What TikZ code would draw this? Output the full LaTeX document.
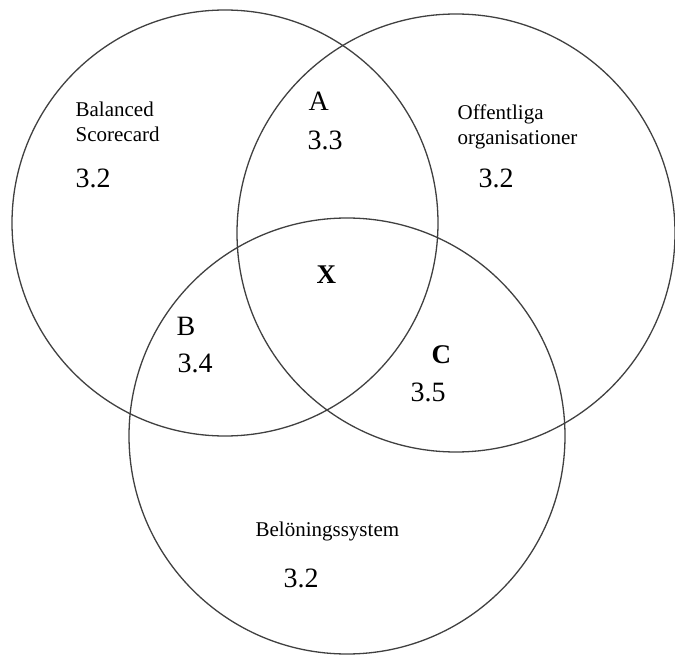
\documentclass[tikz,border=0pt]{standalone}
\usepackage{fontspec}
\setmainfont{Liberation Serif}
\usepackage{tikz}
\usetikzlibrary{positioning}

\tikzset{
  setname/.style={inner sep=0pt, anchor=base west, font=\fontsize{21}{25}\selectfont},
  setval/.style={inner sep=0pt, anchor=base west, font=\fontsize{28}{32}\selectfont},
  zone/.style={inner sep=0pt, anchor=base west, font=\fontsize{28}{32}\selectfont},
  zonebf/.style={inner sep=0pt, anchor=base west, font=\fontsize{27}{32}\selectfont\bfseries},
}

\begin{document}
\begin{tikzpicture}[x=1pt, y=-1pt, line width=1.3pt]
\useasboundingbox (0,0) rectangle (675,660);
% -- the three sets --
\draw[black!75] (225,223) circle (213);
\draw[black!75] (456,233) circle (219);
\draw[black!75] (347,436) circle (218);
% -- set names and values --
\node[setname] (bsc1) at (75,117) {Balanced};
\node[setname] (bsc2) at (75,142) {Scorecard};
\node[setval] (bscval) at (75,188) {3.2};
\node[setname] (off1) at (457,120) {Offentliga};
\node[setname] (off2) at (457,145) {organisationer};
\node[setval] (offval) at (478,188) {3.2};
\node[setname] (bel) at (255,536) {Belöningssystem};
\node[setval] (belval) at (283,587) {3.2};
% -- overlaps --
\node[zone] (a) at (308,111) {A};
\node[setval] (aval) at (307,150) {3.3};
\node[zone] (b) at (176,336) {B};
\node[setval] (bval) at (177,373) {3.4};
\node[zonebf] (c) at (431,363) {C};
\node[setval] (cval) at (410,402) {3.5};
\node[zonebf] (x) at (316,284) {X};
\end{tikzpicture}
\end{document}
